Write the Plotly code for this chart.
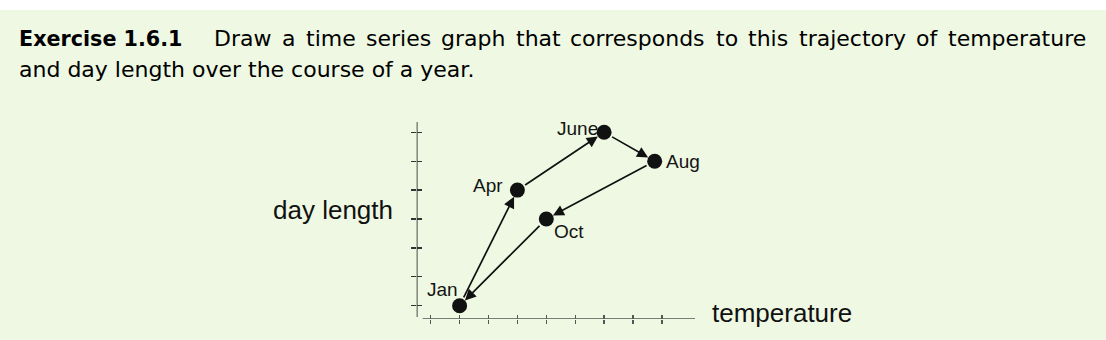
import plotly.graph_objects as go

# ---------------- data ----------------
months = ["Jan", "Apr", "June", "Aug", "Oct"]
temperature = [1, 3, 6, 7.75, 4]
day_length = [0, 4, 6, 5, 3]
arrow_from = ["Jan", "Apr", "June", "Aug", "Oct"]
arrow_to = ["Apr", "June", "Aug", "Oct", "Jan"]
x_ticks = [0, 1, 2, 3, 4, 5, 6, 7, 8]
y_ticks = [0, 1, 2, 3, 4, 5, 6]
x_title = "temperature"
y_title = "day length"
title_bold = "Exercise 1.6.1"
title_line1_words = ["Draw", "a", "time", "series", "graph", "that", "corresponds",
                     "to", "this", "trajectory", "of", "temperature"]
title_line2 = "and day length over the course of a year."

# ---------------- layout helpers (pixels) ----------------
W, H = 1106, 340
GREEN = "#eef8e2"


def fx(p):
    return p / W


def fy(p):
    return 1 - p / H


# word start positions for the justified first line (px)
line1_x = [213.3, 281.0, 304.7, 364.6, 439.9, 514.5, 569.4, 715.1, 747.4, 797.8, 915.1, 946.5]

# label offsets (px) relative to each point: (dx, dy up)
label_offsets = {
    "Jan": (-17.5, 16),
    "Apr": (-29, 4.5),
    "June": (-26.5, 3.5),
    "Aug": (28.5, 0),
    "Oct": (22.5, -12.5),
}

idx = {m: i for i, m in enumerate(months)}

x_dom = [fx(416.7), fx(695)]
y_dom = [(H - 319) / H, (H - 122) / H]
x_rng = [-0.4844, 9.1453]
y_rng = [-0.4602, 6.3564]

fig = go.Figure()

# dummy trace so the overlay axes (inner tick halves) render
fig.add_trace(go.Scatter(x=[None], y=[None], xaxis="x2", yaxis="y2",
                         showlegend=False, hoverinfo="skip"))

fig.add_trace(go.Scatter(
    x=temperature, y=day_length, mode="markers",
    marker=dict(size=15, color="#111111", line=dict(width=0)),
    cliponaxis=False, showlegend=False, hoverinfo="skip",
))

annotations = []

# arrows between consecutive months
for a, b in zip(arrow_from, arrow_to):
    annotations.append(dict(
        x=temperature[idx[b]], y=day_length[idx[b]],
        ax=temperature[idx[a]], ay=day_length[idx[a]],
        xref="x", yref="y", axref="x", ayref="y",
        text="", showarrow=True, arrowhead=2, arrowsize=1.3,
        arrowwidth=1.7, arrowcolor="#111111",
        standoff=7.5, startstandoff=7.5,
    ))

# month labels
for m in months:
    dx, dy = label_offsets[m]
    annotations.append(dict(
        x=temperature[idx[m]], y=day_length[idx[m]], xref="x", yref="y",
        text=m, showarrow=False, xshift=dx, yshift=dy,
        xanchor="center", yanchor="middle",
        font=dict(family="Liberation Sans, Arial, sans-serif", size=19, color="#141414"),
    ))

# axis titles
annotations.append(dict(
    x=fx(332.5), y=fy(210), xref="paper", yref="paper", text=y_title,
    showarrow=False, xanchor="center", yanchor="middle", borderpad=0,
    font=dict(family="Liberation Sans, Arial, sans-serif", size=26, color="#111111"),
))
annotations.append(dict(
    x=fx(781.5), y=fy(312.7), xref="paper", yref="paper", text=x_title,
    showarrow=False, xanchor="center", yanchor="middle", borderpad=0,
    font=dict(family="Liberation Sans, Arial, sans-serif", size=26, color="#111111"),
))

# heading text
annotations.append(dict(
    x=fx(17.7), y=fy(38.8), xref="paper", yref="paper",
    text="<b>" + title_bold + "</b>", showarrow=False,
    xanchor="left", yanchor="middle", borderpad=0,
    font=dict(family="DejaVu Sans, sans-serif", size=20.7, color="#000000"),
))
for w, xp in zip(title_line1_words, line1_x):
    annotations.append(dict(
        x=fx(xp), y=fy(38.4), xref="paper", yref="paper", text=w,
        showarrow=False, xanchor="left", yanchor="middle", borderpad=0,
        font=dict(family="DejaVu Sans, sans-serif", size=22, color="#000000"),
    ))
annotations.append(dict(
    x=fx(18), y=fy(69.4), xref="paper", yref="paper", text=title_line2,
    showarrow=False, xanchor="left", yanchor="middle", borderpad=0,
    font=dict(family="DejaVu Sans, sans-serif", size=22, color="#000000"),
))

common = dict(showgrid=False, zeroline=False, showticklabels=False, fixedrange=True,
              showline=False)

shapes = [
    dict(type="rect", xref="paper", yref="paper", x0=0, x1=1, y0=0, y1=fy(10),
         fillcolor=GREEN, line=dict(width=0), layer="below"),
    # x axis line (starts a little right of the y axis)
    dict(type="line", xref="x", yref="y", x0=-0.28, x1=x_rng[1], y0=y_rng[0], y1=y_rng[0],
         line=dict(color="#555555", width=1.6), layer="above"),
    # y axis line (ends a little above the x axis)
    dict(type="line", xref="x", yref="y", x0=x_rng[0], x1=x_rng[0], y0=-0.39, y1=y_rng[1],
         line=dict(color="#222222", width=1.6), layer="above"),
]

fig.update_layout(
    width=W, height=H,
    margin=dict(l=0, r=0, t=0, b=0),
    paper_bgcolor="white",
    plot_bgcolor="rgba(0,0,0,0)",
    showlegend=False,
    xaxis=dict(domain=x_dom, range=x_rng, tickmode="array", tickvals=x_ticks,
               ticks="outside", ticklen=4, tickwidth=1.3, tickcolor="#555555",
               anchor="y", **common),
    yaxis=dict(domain=y_dom, range=y_rng, tickmode="array", tickvals=y_ticks,
               ticks="outside", ticklen=5, tickwidth=1.3, tickcolor="#333333",
               anchor="x", **common),
    xaxis2=dict(overlaying="x", anchor="y", side="bottom", range=x_rng,
                tickmode="array", tickvals=x_ticks,
                ticks="inside", ticklen=4, tickwidth=1.3, tickcolor="#555555", **common),
    yaxis2=dict(overlaying="y", anchor="x", side="left", range=y_rng,
                tickmode="array", tickvals=y_ticks,
                ticks="inside", ticklen=5, tickwidth=1.3, tickcolor="#333333", **common),
    shapes=shapes,
    annotations=annotations,
)

fig.write_html("out.html", config={"displayModeBar": False, "staticPlot": True})
